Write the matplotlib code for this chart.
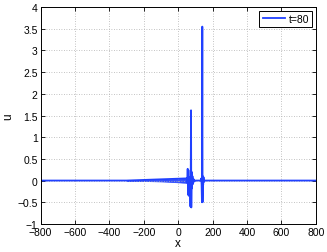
import matplotlib
matplotlib.use("Agg")
import matplotlib.pyplot as plt

# Read-off samples of u(x) at t=80
x_left = [-800, -600, -400, -300]
u_left = [0, 0, 0, 0]

# envelope of the small dispersive tail (half-amplitude of the oscillating band)
x_env = [-300, -250, -200, -150, -100, -60, -30, 0, 20, 40, 50]
u_env = [0.004, 0.006, 0.010, 0.014, 0.020, 0.027, 0.033, 0.040, 0.046, 0.050, 0.05]

x_core = [-300, 50, 53, 55, 57, 59, 61, 63, 66, 69, 71, 73, 74.5, 76, 78, 80, 83, 86,
          90, 95, 100, 130, 134, 136, 138, 140, 141.5, 143, 145, 147, 150, 155, 800]
u_core = [0.0, 0.05, -0.06, 0.27, -0.32, 0.24, -0.35, 0.08, -0.10, 0.05, -0.60, 0.30, 1.62,
          -0.62, 0.20, -0.18, 0.10, -0.08, 0.03, -0.02, 0.0, 0.0, 0.05, -0.10, -0.50,
          3.55, -0.50, 0.10, -0.10, 0.08, -0.03, 0.0, 0.0]

x = x_left + x_core
u = u_left + u_core

xticks = [-800, -600, -400, -200, 0, 200, 400, 600, 800]
yticks = [-1, -0.5, 0, 0.5, 1, 1.5, 2, 2.5, 3, 3.5, 4]
yticklabels = ["\u22121", "\u22120.5", "0", "0.5", "1", "1.5", "2", "2.5", "3", "3.5", "4"]
xticklabels = ["\u2212800", "\u2212600", "\u2212400", "\u2212200", "0", "200", "400", "600", "800"]

color = '#2040ff'
plt.rcParams['font.family'] = ['Liberation Sans', 'DejaVu Sans']
fig = plt.figure(figsize=(3.27, 2.53), dpi=100)
ax = fig.add_axes([0.124, 0.111, 0.842, 0.857])
ax.fill_between(x_env, [-v for v in u_env], u_env, color=color, lw=0.6, alpha=0.9)
ax.plot(x, u, color=color, lw=1.3, label='t=80')
ax.set_xlim(-800, 800)
ax.set_ylim(-1, 4)
ax.set_xticks(xticks)
ax.set_xticklabels(xticklabels)
ax.set_yticks(yticks)
ax.set_yticklabels(yticklabels)
ax.tick_params(direction='in', labelsize=7.5, length=3, width=0.6, top=True, right=True, pad=2)
ax.grid(True, linestyle=(0, (1, 2)), color='#b0b0b0', lw=0.6)
for s in ax.spines.values():
    s.set_linewidth(0.7)
ax.set_xlabel('x', fontsize=8.5, labelpad=0)
ax.set_ylabel('u', fontsize=8.5, labelpad=2)
leg = ax.legend(loc='upper right', fontsize=7.5, fancybox=False, framealpha=1,
                edgecolor='black', handlelength=2.2, handletextpad=0.3,
                borderpad=0.3, borderaxespad=0.35)
leg.get_frame().set_linewidth(0.7)
fig.savefig('out.png', dpi=100)
